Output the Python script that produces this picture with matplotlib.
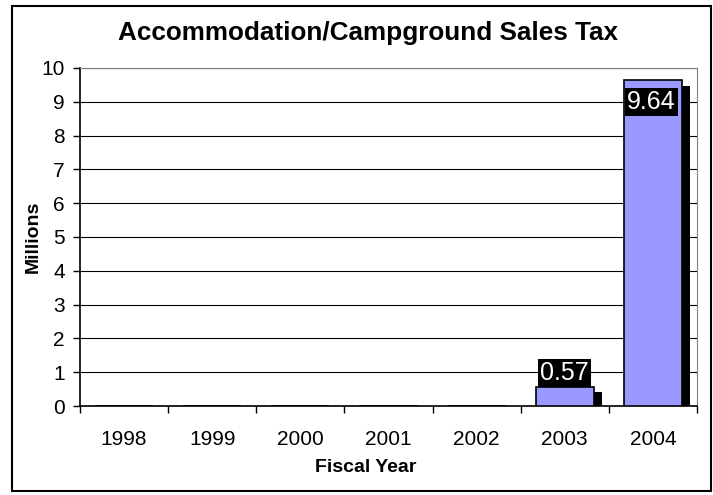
import numpy as np
import matplotlib.pyplot as plt
import matplotlib.patheffects as pe
from matplotlib.patches import Rectangle

plt.rcParams['font.family'] = ['Liberation Sans', 'DejaVu Sans']

# Data to plot
years = ['1998', '1999', '2000', '2001', '2002', '2003', '2004']
sales_tax = [0, 0, 0, 0, 0, 0.57, 9.64]
yticks = list(range(0, 11))

fig = plt.figure(figsize=(7.13, 4.95), dpi=100)
ax = fig.add_axes([80/713, 1 - 406/495, (697 - 80)/713, (406 - 68)/495])

x = np.arange(len(years)) + 0.5
shadow = [pe.SimplePatchShadow(offset=(6, -4), shadow_rgbFace='black', alpha=1.0), pe.Normal()]
bars = ax.bar(x, sales_tax, width=0.66, color='#9999ff', edgecolor='black', linewidth=1.2,
              zorder=3)
for b, v in zip(bars, sales_tax):
    if v > 0:
        b.set_path_effects(shadow)

for xi, v in zip(x, sales_tax):
    if v <= 0:
        continue
    if v > 8.5:
        ax.annotate('%.2f' % v, (xi, v), xytext=(-1, -7), textcoords='offset points',
                    ha='center', va='top', color='white', fontsize=18, zorder=5,
                    bbox=dict(boxstyle='square,pad=0.08', fc='black', ec='none'))
    else:
        ax.annotate('%.2f' % v, (xi, v), xytext=(0, 1), textcoords='offset points',
                    ha='center', va='bottom', color='white', fontsize=18, zorder=5,
                    bbox=dict(boxstyle='square,pad=0.08', fc='black', ec='none'))

ax.set_xlim(0, len(years))
ax.set_ylim(0, 10)
ax.set_yticks(yticks)
ax.set_xticks(np.arange(len(years) + 1))
ax.set_xticklabels([])
ax.set_xticks(x, minor=True)
ax.set_xticklabels(years, minor=True, fontsize=15)
ax.tick_params(axis='x', which='minor', length=0, pad=17)
ax.tick_params(axis='x', which='major', length=5, width=1, direction='out')
ax.tick_params(axis='y', length=5, width=1, direction='out', labelsize=15, pad=6)
ax.yaxis.grid(True, color='black', linewidth=0.8, zorder=0)
ax.set_axisbelow(True)
for s in ['top', 'right']:
    ax.spines[s].set_color('#808080')
ax.spines['left'].set_linewidth(1.2)
ax.spines['bottom'].set_linewidth(1.2)

fig.text(366/713, 1 - 467/495, 'Fiscal Year', ha='center', va='center',
         fontsize=14, fontweight='bold')
fig.text(33/713, 1 - 237/495, 'Millions', ha='center', va='center', rotation=90,
         fontsize=14, fontweight='bold')
fig.text(368/713, 1 - 33/495, 'Accommodation/Campground Sales Tax', ha='center', va='center',
         fontsize=18.8, fontweight='bold')

# chart border
fig.patches.append(Rectangle((12/713, 1 - 491/495), (711 - 12)/713, (491 - 6)/495,
                             transform=fig.transFigure, fill=False, ec='black', lw=1.5))

fig.savefig('out.png', dpi=100)
plt.close(fig)
